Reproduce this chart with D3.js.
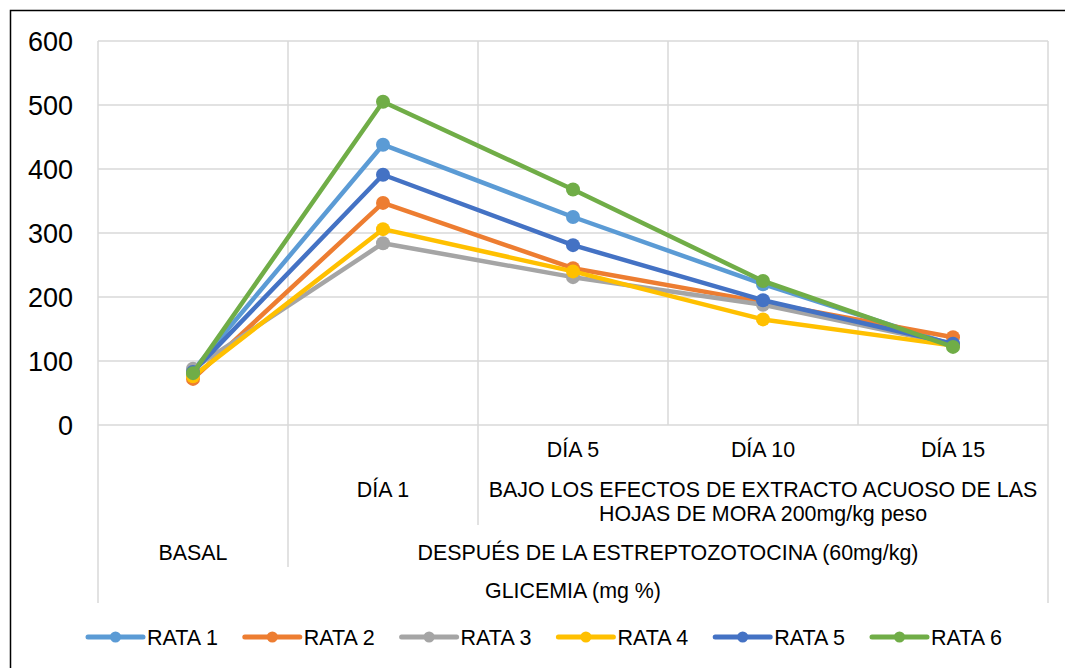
<!DOCTYPE html>
<html>
<head>
<meta charset="utf-8">
<script src="https://cdn.jsdelivr.net/npm/d3@7"></script>
<style>
  html, body { margin: 0; padding: 0; background: #fff; }
  svg { display: block; font-family: "Liberation Sans", Arial, sans-serif; }
</style>
</head>
<body>
<svg id="chart" width="1065" height="668"></svg>
<script>
// Glycemia per rat over time
const categories = ["BASAL", "DÍA 1", "DÍA 5", "DÍA 10", "DÍA 15"];
const seriesNames = ["RATA 1", "RATA 2", "RATA 3", "RATA 4", "RATA 5", "RATA 6"];
const rata1 = [85, 438, 325, 220, 125];
const rata2 = [72, 347, 245, 192, 137];
const rata3 = [88, 284, 231, 188, 126];
const rata4 = [76, 306, 240, 165, 124];
const rata5 = [83, 391, 281, 195, 127];
const rata6 = [81, 505, 368, 225, 122];
const yTicks = [0, 100, 200, 300, 400, 500, 600];

// Multi-level category labels: [text, first category index, last category index]
const level1 = [["DÍA 5", 2, 2], ["DÍA 10", 3, 3], ["DÍA 15", 4, 4]];
const level2 = [["DÍA 1", 1, 1], ["BAJO LOS EFECTOS DE EXTRACTO ACUOSO DE LAS|HOJAS DE MORA 200mg/kg peso", 2, 4]];
const level3 = [["BASAL", 0, 0], ["DESPUÉS DE LA ESTREPTOZOTOCINA (60mg/kg)", 1, 4]];
const level4 = [["GLICEMIA (mg %)", 0, 4]];

const seriesValues = [rata1, rata2, rata3, rata4, rata5, rata6];
const colors = ["#5B9BD5", "#ED7D31", "#A5A5A5", "#FFC000", "#4472C4", "#70AD47"];

const svg = d3.select("#chart");
const plot = { left: 98, right: 1048, top: 41, bottom: 425 };
const gridColor = "#D9D9D9";

// chart border
svg.append("rect")
  .attr("x", 10.5).attr("y", 10.5)
  .attr("width", 1070).attr("height", 680)
  .attr("fill", "none").attr("stroke", "#000").attr("stroke-width", 1.5);

const x = d3.scaleBand().domain(categories).range([plot.left, plot.right]).padding(0);
const y = d3.scaleLinear().domain([0, 600]).range([plot.bottom, plot.top]);

// horizontal gridlines
svg.append("g").selectAll("line").data(yTicks).join("line")
  .attr("x1", plot.left).attr("x2", plot.right)
  .attr("y1", d => y(d)).attr("y2", d => y(d))
  .attr("stroke", gridColor).attr("stroke-width", 1.5);

// vertical gridlines at category boundaries
const bounds = categories.map(c => x(c)).concat([plot.right]);
svg.append("g").selectAll("line").data(bounds).join("line")
  .attr("x1", d => d).attr("x2", d => d)
  .attr("y1", plot.top).attr("y2", plot.bottom)
  .attr("stroke", gridColor).attr("stroke-width", 1.5);

// y axis labels
const yAxis = d3.axisLeft(y).tickValues(yTicks).tickSize(0).tickPadding(0);
const gy = svg.append("g").attr("transform", `translate(73,0)`).call(yAxis);
gy.select(".domain").remove();
gy.selectAll("text")
  .attr("font-family", "Liberation Sans, Arial, sans-serif")
  .attr("font-size", 27).attr("fill", "#000").attr("dy", "0.35em");

// multi-level category axis separators
const sepBottoms = [
  [bounds[0], 603],
  [bounds[1], 567],
  [bounds[2], 525],
  [bounds[5], 603]
];
svg.append("g").selectAll("line").data(sepBottoms).join("line")
  .attr("x1", d => d[0]).attr("x2", d => d[0])
  .attr("y1", plot.bottom).attr("y2", d => d[1])
  .attr("stroke", gridColor).attr("stroke-width", 1.5);

function drawLevel(items, cy) {
  const g = svg.append("g");
  items.forEach(([txt, a, b]) => {
    const cx = (x(categories[a]) + x(categories[b]) + x.bandwidth()) / 2;
    const lines = txt.split("|");
    const lh = 24;
    const y0 = cy - (lines.length - 1) * lh / 2;
    const t = g.append("text")
      .attr("text-anchor", "middle")
      .attr("font-size", 21.4).attr("fill", "#000");
    lines.forEach((ln, i) => {
      t.append("tspan").attr("x", cx).attr("y", y0 + i * lh).attr("dy", "0.35em").text(ln);
    });
  });
}
drawLevel(level1, 450);
drawLevel(level2.slice(0, 1), 490);
drawLevel(level2.slice(1), 502);
drawLevel(level3, 553);
drawLevel(level4, 591);

// series lines and markers
const line = d3.line()
  .x((d, i) => x(categories[i]) + x.bandwidth() / 2)
  .y(d => y(d));

seriesValues.forEach((vals, s) => {
  const g = svg.append("g");
  g.append("path").datum(vals)
    .attr("d", line)
    .attr("fill", "none").attr("stroke", colors[s])
    .attr("stroke-width", 4.5).attr("stroke-linejoin", "round").attr("stroke-linecap", "round");
  g.selectAll("circle").data(vals).join("circle")
    .attr("cx", (d, i) => x(categories[i]) + x.bandwidth() / 2)
    .attr("cy", d => y(d))
    .attr("r", 7)
    .attr("fill", colors[s]);
});

// legend
const legendX = d3.scalePoint().domain(seriesNames).range([88, 872]);
const lg = svg.append("g");
seriesNames.forEach((name, s) => {
  const lx = legendX(name);
  const ly = 637;
  lg.append("line")
    .attr("x1", lx).attr("x2", lx + 55).attr("y1", ly).attr("y2", ly)
    .attr("stroke", colors[s]).attr("stroke-width", 5).attr("stroke-linecap", "round");
  lg.append("circle").attr("cx", lx + 27.5).attr("cy", ly).attr("r", 5.5).attr("fill", colors[s]);
  lg.append("text").attr("x", lx + 59).attr("y", ly).attr("dy", "0.35em")
    .attr("font-size", 21.5).attr("fill", "#000").text(name);
});
</script>
</body>
</html>
